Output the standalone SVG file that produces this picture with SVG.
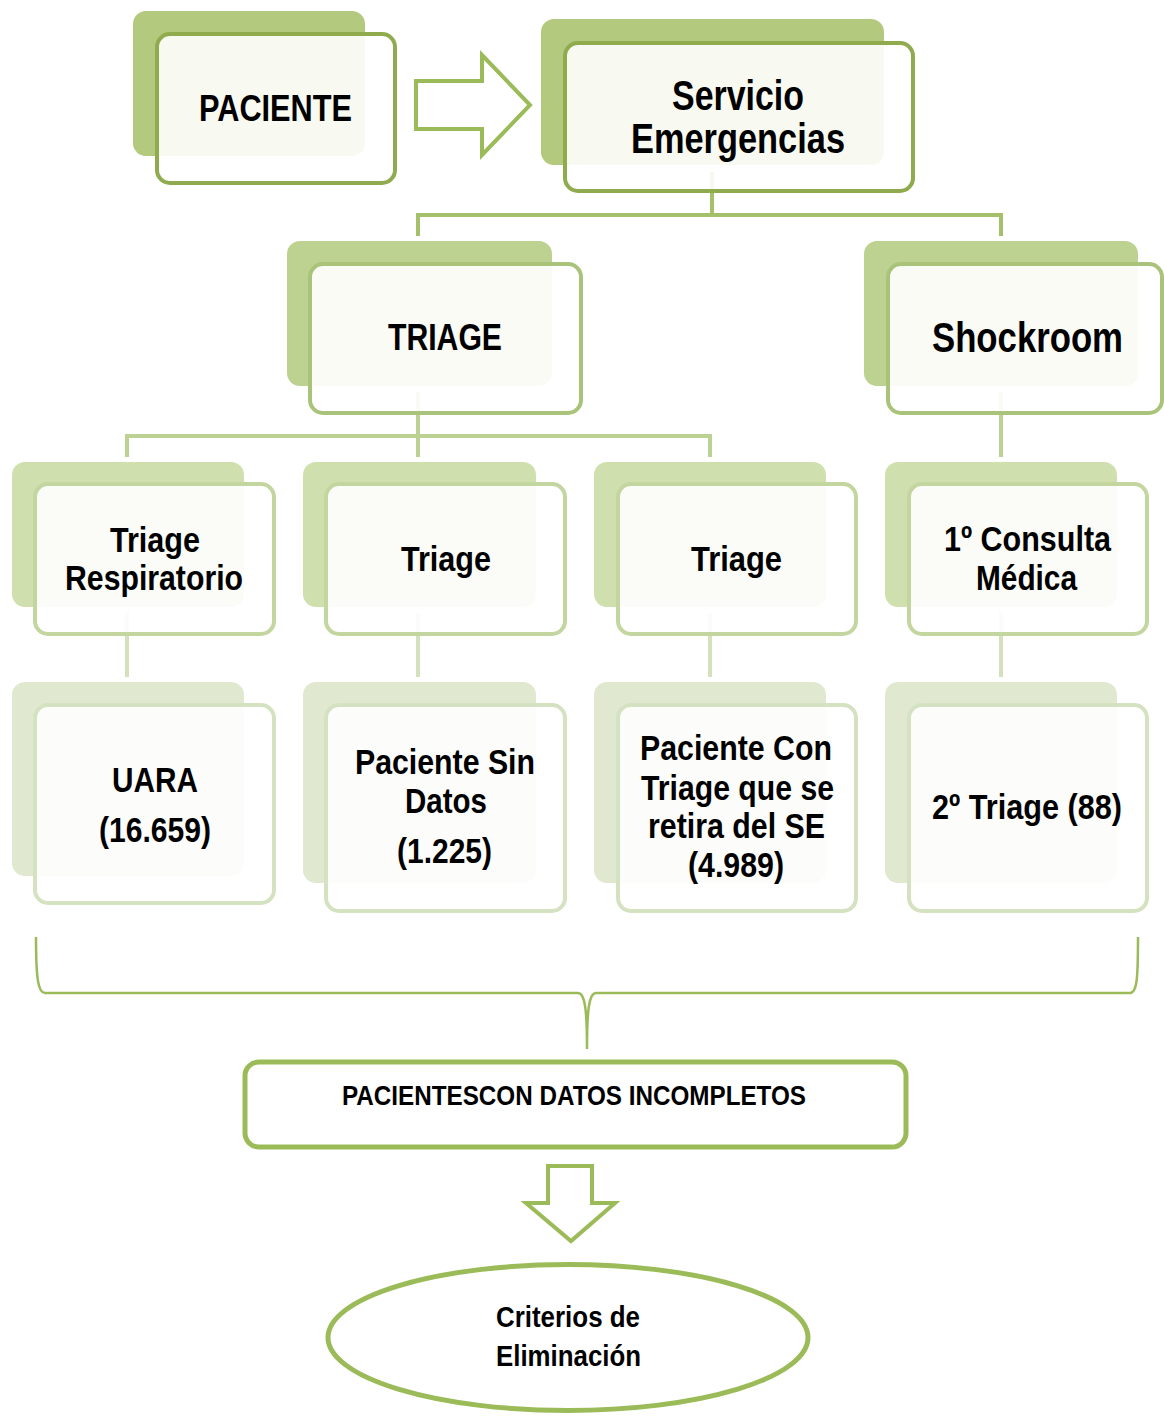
<svg xmlns="http://www.w3.org/2000/svg" width="1164" height="1416" viewBox="0 0 1164 1416">
<style>
text{font-family:"Liberation Sans Narrow","Liberation Sans",Arial,sans-serif;font-weight:bold;fill:#000}
.front{fill:#ffffff;fill-opacity:0.9;stroke-width:4}
.b0{fill:#b2c97e}.f0{stroke:#8fab4e}
.b1{fill:#bdd190}.f1{stroke:#a9c47a}
.b2{fill:#cfdfae}.f2{stroke:#c3d6a0}
.b3{fill:#e0e9cf}.f3{stroke:#d5e2c1}
.c1{stroke:#a4c06b;stroke-width:4;fill:none}
.c2{stroke:#bcd293;stroke-width:4;fill:none}
.c3{stroke:#d3e1bd;stroke-width:4;fill:none}
.g{stroke:#9bbb59;fill:#fff}
.t37{font-size:37px}.t42{font-size:42px}.t35{font-size:35px}
</style>
<g id="connectors">
<path class="c1" d="M712,172 V215 M416,215 H1003 M418,215 V236 M1001,215 V236"/>
<path class="c2" d="M418,392 V436 M125,436 H712 M127,436 V457 M418,436 V457 M710,436 V457 M1001,392 V457"/>
<path class="c3" d="M127,613 V677 M418,613 V677 M710,613 V677 M1001,613 V677"/>
<polygon class="g" stroke-width="4" points="416,81 482,81 482,55 530,105 482,155 482,129 416,129"/>
<path d="M36,937 C36,978 38,993 45,993 L578,993 C585,993 587,1010 587,1049 C587,1010 589,993 596,993 L1130,993 C1137,993 1138,978 1138,937" fill="none" stroke="#9bbb59" stroke-width="2.5"/>
<polygon class="g" stroke-width="4" points="548,1166 592,1166 592,1203 615,1203 571,1241 526,1203 548,1203"/>
</g>
<g id="paciente">
<rect class="b0" x="133" y="11" width="232" height="145" rx="13"/>
<rect class="front f0" x="157" y="34" width="238" height="149" rx="13"/>
<text class="t37" x="199" y="121" textLength="153" lengthAdjust="spacingAndGlyphs">PACIENTE</text>
</g>
<g id="servicio">
<rect class="b0" x="541" y="19" width="343" height="146" rx="13"/>
<rect class="front f0" x="565" y="43" width="348" height="148" rx="13"/>
<text class="t42" x="672" y="110" textLength="132" lengthAdjust="spacingAndGlyphs">Servicio</text>
<text class="t42" x="631" y="153" textLength="214" lengthAdjust="spacingAndGlyphs">Emergencias</text>
</g>
<g id="triage">
<rect class="b1" x="287" y="241" width="265" height="145" rx="13"/>
<rect class="front f1" x="310" y="264" width="271" height="149" rx="13"/>
<text class="t37" x="388" y="350" textLength="114" lengthAdjust="spacingAndGlyphs">TRIAGE</text>
</g>
<g id="shockroom">
<rect class="b1" x="864" y="241" width="274" height="145" rx="13"/>
<rect class="front f1" x="888" y="264" width="274" height="149" rx="13"/>
<text class="t42" x="932" y="352" textLength="191" lengthAdjust="spacingAndGlyphs">Shockroom</text>
</g>
<g id="triage-respiratorio">
<rect class="b2" x="12" y="462" width="232" height="145" rx="13"/>
<rect class="front f2" x="35" y="484" width="239" height="150" rx="13"/>
<text class="t35" x="110" y="552" textLength="90" lengthAdjust="spacingAndGlyphs">Triage</text>
<text class="t35" x="65" y="590" textLength="178" lengthAdjust="spacingAndGlyphs">Respiratorio</text>
</g>
<g id="triage-2">
<rect class="b2" x="303" y="462" width="233" height="145" rx="13"/>
<rect class="front f2" x="326" y="484" width="239" height="150" rx="13"/>
<text class="t35" x="401" y="571" textLength="90" lengthAdjust="spacingAndGlyphs">Triage</text>
</g>
<g id="triage-3">
<rect class="b2" x="594" y="462" width="232" height="145" rx="13"/>
<rect class="front f2" x="618" y="484" width="238" height="150" rx="13"/>
<text class="t35" x="691" y="571" textLength="91" lengthAdjust="spacingAndGlyphs">Triage</text>
</g>
<g id="consulta">
<rect class="b2" x="885" y="462" width="232" height="145" rx="13"/>
<rect class="front f2" x="909" y="484" width="238" height="150" rx="13"/>
<text class="t35" x="944" y="551" textLength="167" lengthAdjust="spacingAndGlyphs">1º Consulta</text>
<text class="t35" x="976" y="590" textLength="101" lengthAdjust="spacingAndGlyphs">Médica</text>
</g>
<g id="uara">
<rect class="b3" x="12" y="682" width="232" height="194" rx="13"/>
<rect class="front f3" x="35" y="705" width="239" height="198" rx="13"/>
<text class="t35" x="112" y="792" textLength="86" lengthAdjust="spacingAndGlyphs">UARA</text>
<text class="t35" x="99" y="842" textLength="112" lengthAdjust="spacingAndGlyphs">(16.659)</text>
</g>
<g id="sin-datos">
<rect class="b3" x="303" y="682" width="233" height="201" rx="13"/>
<rect class="front f3" x="326" y="705" width="239" height="206" rx="13"/>
<text class="t35" x="355" y="774" textLength="180" lengthAdjust="spacingAndGlyphs">Paciente Sin</text>
<text class="t35" x="405" y="813" textLength="82" lengthAdjust="spacingAndGlyphs">Datos</text>
<text class="t35" x="397" y="863" textLength="95" lengthAdjust="spacingAndGlyphs">(1.225)</text>
</g>
<g id="retira">
<rect class="b3" x="594" y="682" width="232" height="201" rx="13"/>
<rect class="front f3" x="618" y="705" width="238" height="206" rx="13"/>
<text class="t35" x="640" y="760" textLength="192" lengthAdjust="spacingAndGlyphs">Paciente Con</text>
<text class="t35" x="641" y="800" textLength="193" lengthAdjust="spacingAndGlyphs">Triage que se</text>
<text class="t35" x="648" y="838" textLength="177" lengthAdjust="spacingAndGlyphs">retira del SE</text>
<text class="t35" x="688" y="877" textLength="96" lengthAdjust="spacingAndGlyphs">(4.989)</text>
</g>
<g id="segundo-triage">
<rect class="b3" x="885" y="682" width="232" height="201" rx="13"/>
<rect class="front f3" x="909" y="705" width="238" height="206" rx="13"/>
<text class="t35" x="932" y="819" textLength="190" lengthAdjust="spacingAndGlyphs">2º Triage (88)</text>
</g>
<g id="incompletos">
<rect x="245" y="1062" width="661" height="85" rx="14" fill="#fff" stroke="#9bbb59" stroke-width="5"/>
<text x="342" y="1105" font-size="27" textLength="464" lengthAdjust="spacingAndGlyphs">PACIENTESCON DATOS INCOMPLETOS</text>
</g>
<g id="criterios">
<ellipse cx="568" cy="1337.5" rx="240" ry="73" fill="#fff" stroke="#9bbb59" stroke-width="5"/>
<text x="496" y="1327" font-size="29" textLength="144" lengthAdjust="spacingAndGlyphs">Criterios de</text>
<text x="496" y="1366" font-size="29" textLength="145" lengthAdjust="spacingAndGlyphs">Eliminación</text>
</g>
</svg>
